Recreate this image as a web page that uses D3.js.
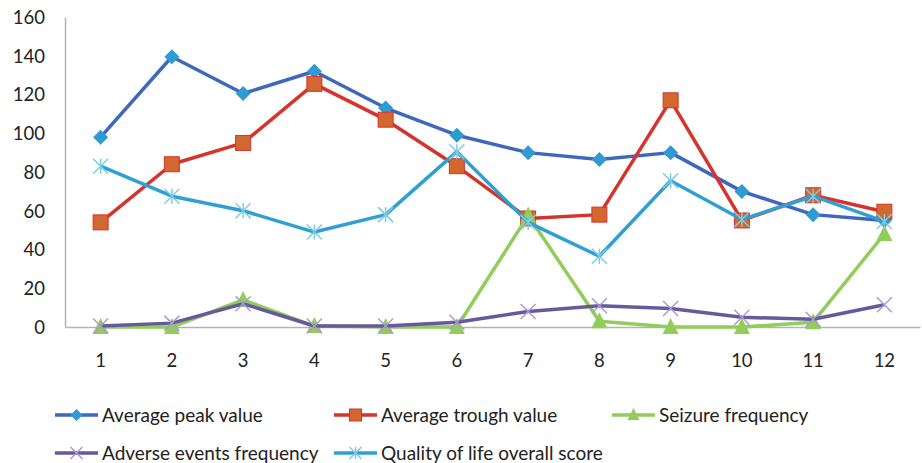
<!DOCTYPE html>
<html>
<head>
<meta charset="utf-8">
<script src="https://cdn.jsdelivr.net/npm/d3@7"></script>
<style>
  body { margin: 0; background: #fff; }
  text { font-family: Lato, "Open Sans", sans-serif; fill: #222; }
</style>
</head>
<body>
<div id="chart"></div>
<script>
// chart data
var categories = [1, 2, 3, 4, 5, 6, 7, 8, 9, 10, 11, 12];
var peakValues = [98, 139.5, 120.5, 132, 113, 99, 90, 86.5, 90, 70, 58, 55];
var troughValues = [54, 84, 95, 125.5, 107, 83, 56, 58, 117, 55, 68, 59.5];
var seizureValues = [0, 0, 14, 0.5, 0, 0, 57.5, 3, 0, 0, 2.5, 48];
var adverseValues = [0.5, 2, 12, 0.5, 0.5, 2.5, 8, 11, 9.5, 5, 4, 11.5];
var qualityValues = [83, 67.5, 60, 49, 58, 90.5, 54, 36.5, 75.5, 55.5, 67.5, 54.5];
var yTicks = [0, 20, 40, 60, 80, 100, 120, 140, 160];

var series = [
    { name: 'Average peak value', values: peakValues, line: '#3D68BD', fill: '#2F9AD3', stroke: '#2F9AD3', symbol: 'diamond' },
    { name: 'Average trough value', values: troughValues, line: '#D6332C', fill: '#D2672F', stroke: '#D6332C', symbol: 'square' },
    { name: 'Seizure frequency', values: seizureValues, line: '#92CD5A', fill: '#92CD5A', stroke: '#92CD5A', symbol: 'triangle' },
    { name: 'Adverse events frequency', values: adverseValues, line: '#66599E', fill: 'none', stroke: '#A99BD0', symbol: 'x' },
    { name: 'Quality of life overall score', values: qualityValues, line: '#30A0D2', fill: 'none', stroke: '#7FCBE2', symbol: 'star' }
];

var width = 922, height = 463;
var svg = d3.select('#chart').append('svg')
    .attr('width', width)
    .attr('height', height);

var x = d3.scaleBand().domain(categories).range([65, 920]);
var y = d3.scaleLinear().domain([0, 160]).range([327, 17]);

function cx(d, i) { return x(categories[i]) + x.bandwidth() / 2; }

// axes
var yAxis = svg.append('g')
    .attr('transform', 'translate(65,0)')
    .call(d3.axisLeft(y).tickValues(yTicks).tickSize(0).tickPadding(20));
yAxis.select('.domain').attr('stroke', '#b3b3b3').attr('stroke-width', 1.5);
yAxis.selectAll('text').style('font-size', '18.5px').attr('dy', '0.35em');

var xAxis = svg.append('g')
    .attr('transform', 'translate(0,327)')
    .call(d3.axisBottom(x).tickSize(0));
xAxis.select('.domain').attr('stroke', '#b3b3b3').attr('stroke-width', 1.5);
xAxis.selectAll('text').style('font-size', '18.5px').attr('y', 40).attr('dy', 0);

function drawMarker(g, s, px, py, size) {
    var h = size / 2;
    if (s.symbol === 'diamond') {
        g.append('path').attr('d', 'M' + px + ',' + (py - h) + 'L' + (px + h) + ',' + py +
            'L' + px + ',' + (py + h) + 'L' + (px - h) + ',' + py + 'Z')
            .attr('fill', s.fill);
    } else if (s.symbol === 'square') {
        g.append('rect').attr('x', px - h).attr('y', py - h)
            .attr('width', size).attr('height', size)
            .attr('fill', s.fill).attr('stroke', s.stroke).attr('stroke-width', 1);
    } else if (s.symbol === 'triangle') {
        g.append('path').attr('d', 'M' + px + ',' + (py - h - 1) + 'L' + (px + h) + ',' + (py + h - 1) +
            'L' + (px - h) + ',' + (py + h - 1) + 'Z')
            .attr('fill', s.fill);
    } else if (s.symbol === 'x') {
        g.append('path').attr('d', 'M' + (px - h) + ',' + (py - h) + 'L' + (px + h) + ',' + (py + h) +
            'M' + (px - h) + ',' + (py + h) + 'L' + (px + h) + ',' + (py - h))
            .attr('stroke', s.stroke).attr('stroke-width', 1.5).attr('fill', 'none');
    } else if (s.symbol === 'star') {
        g.append('path').attr('d', 'M' + (px - h) + ',' + (py - h) + 'L' + (px + h) + ',' + (py + h) +
            'M' + (px - h) + ',' + (py + h) + 'L' + (px + h) + ',' + (py - h) +
            'M' + px + ',' + (py - h) + 'L' + px + ',' + (py + h))
            .attr('stroke', s.stroke).attr('stroke-width', 1.5).attr('fill', 'none');
    }
}

var line = d3.line()
    .x(cx)
    .y(function (d) { return y(d); });

series.forEach(function (s) {
    var g = svg.append('g');
    g.append('path')
        .attr('d', line(s.values))
        .attr('fill', 'none')
        .attr('stroke', s.line)
        .attr('stroke-width', 3.5)
        .attr('stroke-linejoin', 'round');
    s.values.forEach(function (v, i) {
        drawMarker(g, s, cx(v, i), y(v), s.symbol === 'triangle' ? 16 : 15);
    });
});

// legend
var legendPos = [[55, 415], [334, 415], [612, 415], [55, 453], [334, 453]];
series.forEach(function (s, i) {
    var g = svg.append('g').attr('transform', 'translate(' + legendPos[i][0] + ',' + legendPos[i][1] + ')');
    g.append('line').attr('x1', 0).attr('x2', 43).attr('y1', 0).attr('y2', 0)
        .attr('stroke', s.line).attr('stroke-width', 3.5);
    drawMarker(g, s, 21.5, 0, 12);
    g.append('text').attr('x', 47).attr('y', 0).attr('dy', '0.35em')
        .style('font-size', '19px').text(s.name);
});
</script>
</body>
</html>
